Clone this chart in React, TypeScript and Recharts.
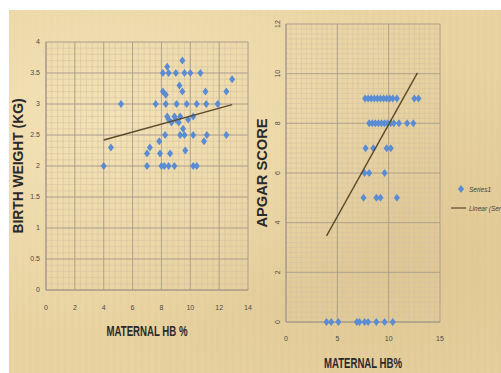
import React from 'react';
import { ScatterChart, Scatter, XAxis, YAxis, CartesianGrid, Legend } from 'recharts';

// left panel: maternal Hb vs birth weight
const weightHb = [
  4.0, 4.5, 5.2, 7.0, 7.0, 7.2, 7.6, 7.85, 7.9, 8.0, 8.2, 8.1, 8.1, 8.3, 8.25, 8.4, 8.3, 8.6, 8.5, 8.9,
  8.5, 9.0, 9.25, 9.45, 9.45, 9.6, 10.0, 10.7, 9.05, 9.75, 10.45, 11.1, 11.9, 8.4, 8.5, 8.7, 8.9, 9.0,
  9.2, 9.3, 9.85, 10.2, 9.5, 9.6, 9.3, 10.2, 9.65, 10.2, 10.45, 11.05, 10.95, 11.15, 12.5, 12.5, 12.9,
];
const weightKg = [
  2.0, 2.3, 3.0, 2.0, 2.2, 2.3, 3.0, 2.4, 2.2, 2.0, 2.0, 3.5, 3.2, 3.15, 2.5, 3.6, 3.0, 2.2, 2.0, 2.0,
  3.5, 3.5, 3.3, 3.2, 3.7, 3.5, 3.5, 3.5, 3.0, 3.0, 3.0, 3.0, 3.0, 2.8, 2.75, 2.7, 2.8, 2.75,
  2.7, 2.8, 2.75, 2.8, 2.6, 2.5, 2.5, 2.5, 2.25, 2.0, 2.0, 3.2, 2.4, 2.5, 3.2, 2.5, 3.4,
];
const weightTrendHb = [4.0, 12.9];
const weightTrendKg = [2.42, 2.99];
const weightTicksX = [0, 2, 4, 6, 8, 10, 12, 14];
const weightTicksY = [0, 0.5, 1, 1.5, 2, 2.5, 3, 3.5, 4];

// right panel: maternal Hb vs apgar score
const apgarHb = [
  7.7, 8.0, 8.3, 8.6, 8.9, 9.2, 9.5, 9.8, 10.1, 10.4, 10.8, 12.5, 12.9,
  8.1, 8.4, 8.7, 9.0, 9.3, 9.6, 9.9, 10.2, 10.5, 11.0, 11.8, 12.4,
  7.75, 8.5, 9.8, 10.2,
  7.65, 8.1, 9.6,
  7.55, 8.8, 9.2, 10.8,
  3.95, 4.4, 5.1, 6.9, 7.15, 7.65, 8.0, 8.8, 9.6, 10.4,
];
const apgarScore = [
  9, 9, 9, 9, 9, 9, 9, 9, 9, 9, 9, 9, 9,
  8, 8, 8, 8, 8, 8, 8, 8, 8, 8, 8, 8,
  7, 7, 7, 7,
  6, 6, 6,
  5, 5, 5, 5,
  0, 0, 0, 0, 0, 0, 0, 0, 0, 0,
];
const apgarTrendHb = [3.95, 12.8];
const apgarTrendScore = [3.47, 10.03];
const apgarTicksX = [0, 5, 10, 15];
const apgarTicksY = [0, 2, 4, 6, 8, 10, 12];

const seriesName = 'Series1';
const trendName = 'Linear (Series1)';

const steps = (end: number, step: number) =>
  Array.from({ length: Math.round(end / step) + 1 }, (_, i) => +(i * step).toFixed(2));

const BLUE = '#5a8cd3';
const TREND = '#5b4a2c';
const MAJOR = '#a6988a';
const MINOR = '#d5c3a2';
const tickStyle = { fontSize: 7, fill: '#4a4a4a', fontFamily: 'Arial, sans-serif' };

const Diamond = (p: any) => (
  <path
    d={`M${p.cx},${p.cy - 4}L${p.cx + 3},${p.cy}L${p.cx},${p.cy + 4}L${p.cx - 3},${p.cy}Z`}
    fill={BLUE}
  />
);
const NoMark = () => <g />;

const axisTitle = (text: string, side: 'bottom' | 'left', gap: number, len?: number) => (props: any) => {
  const { x, y, width, height } = props.viewBox;
  const style = { fontSize: 14, fontWeight: 700, fill: '#2a2a2a', fontFamily: 'Arial, sans-serif' };
  if (side === 'bottom') {
    return (
      <text x={x + width / 2} y={y + height + gap} textAnchor="middle" textLength={len}
        lengthAdjust="spacingAndGlyphs" style={style}>{text}</text>
    );
  }
  const cx = x + gap;
  const cy = y + height / 2;
  return (
    <text x={cx} y={cy} transform={`rotate(-90 ${cx} ${cy})`} textAnchor="middle"
      dominantBaseline="central" textLength={len} lengthAdjust="spacingAndGlyphs" style={style}>{text}</text>
  );
};

const RotatedTick = (props: any) => {
  const { x, y, payload } = props;
  return (
    <text x={x} y={y} transform={`rotate(-90 ${x} ${y})`} textAnchor="middle" style={tickStyle}>
      {payload.value}
    </text>
  );
};

// markers first, trend line second, as in the original legend
const renderLegend = (props: any) => {
  const entries = [...(props.payload || [])].sort(
    (a: any, b: any) => (a.type === 'line' ? 1 : 0) - (b.type === 'line' ? 1 : 0),
  );
  return (
    <div style={{ fontFamily: 'Arial, sans-serif', fontSize: 6.5, color: '#444', whiteSpace: 'nowrap' }}>
      {entries.map((entry: any) => (
        <div key={entry.value} style={{ display: 'flex', alignItems: 'center', height: 10, marginBottom: 9 }}>
          <svg width={16} height={10}>
            {entry.type === 'line'
              ? <line x1={0} y1={5} x2={15} y2={5} stroke={TREND} strokeWidth={1.2} />
              : <path d="M10,1L13,5L10,9L7,5Z" fill={BLUE} />}
          </svg>
          <span style={{ marginLeft: 2, fontStyle: 'italic' }}>{entry.value}</span>
        </div>
      ))}
    </div>
  );
};

const App: React.FC = () => {
  const weightPoints = weightHb.map((hb, i) => ({ hb, value: weightKg[i] }));
  const weightTrend = weightTrendHb.map((hb, i) => ({ hb, value: weightTrendKg[i] }));
  const apgarPoints = apgarHb.map((hb, i) => ({ hb, value: apgarScore[i] }));
  const apgarTrend = apgarTrendHb.map((hb, i) => ({ hb, value: apgarTrendScore[i] }));

  return (
    <div style={{ position: 'absolute', left: 0, top: 0, width: 501, height: 373, overflow: 'hidden', background: '#fff' }}>
      <div
        style={{
          position: 'absolute', left: 9, top: 10, width: 492, height: 363,
          background:
            'radial-gradient(ellipse at 20% 30%, rgba(245,228,185,0.9), rgba(245,228,185,0) 60%),' +
            'radial-gradient(ellipse at 80% 70%, rgba(214,188,134,0.5), rgba(214,188,134,0) 60%),' +
            'repeating-linear-gradient(90deg, rgba(190,160,110,0.08) 0px, rgba(190,160,110,0) 3px, rgba(190,160,110,0.05) 7px),' +
            '#e9d4a2',
        }}
      />

      <div style={{ position: 'absolute', left: 0, top: 0 }}>
        <ScatterChart width={262} height={373} margin={{ top: 42, right: 14, bottom: 63, left: 26 }}>
          <CartesianGrid stroke={MINOR} strokeWidth={0.6} fill="none"
            horizontalValues={steps(4, 0.1)} verticalValues={steps(14, 0.4)} />
          <CartesianGrid stroke={MAJOR} strokeWidth={0.8} fill="none"
            horizontalValues={weightTicksY} verticalValues={weightTicksX} />
          <XAxis type="number" dataKey="hb" domain={[0, 14]} ticks={weightTicksX} interval={0}
            height={20} tickLine={false} tickSize={0} tickMargin={15} tick={tickStyle}
            axisLine={{ stroke: MAJOR }} label={axisTitle('MATERNAL HB %', 'bottom', 26, 81)} />
          <YAxis type="number" dataKey="value" domain={[0, 4]} ticks={weightTicksY} interval={0}
            width={20} tickLine={false} tickSize={0} tickMargin={6} tick={tickStyle}
            axisLine={{ stroke: MAJOR }} label={axisTitle('BIRTH WEIGHT (KG)', 'left', -8, 135)} />
          <Scatter name={seriesName} data={weightPoints} shape={Diamond} isAnimationActive={false} />
          <Scatter name={trendName} data={weightTrend} shape={NoMark} line={{ stroke: TREND, strokeWidth: 1.4 }}
            lineType="joint" isAnimationActive={false} />
        </ScatterChart>
      </div>

      <div style={{ position: 'absolute', left: 250, top: 0 }}>
        <ScatterChart width={251} height={373} margin={{ top: 24, right: 61, bottom: 31, left: 20 }}>
          <CartesianGrid stroke={MINOR} strokeWidth={0.6} fill="none"
            horizontalValues={steps(12, 0.2)} verticalValues={steps(15, 0.5)} />
          <CartesianGrid stroke={MAJOR} strokeWidth={0.8} fill="none"
            horizontalValues={apgarTicksY} verticalValues={apgarTicksX} />
          <XAxis type="number" dataKey="hb" domain={[0, 15]} ticks={apgarTicksX} interval={0}
            height={20} tickLine={false} tickSize={0} tickMargin={14} tick={tickStyle}
            axisLine={{ stroke: MAJOR }} label={axisTitle('MATERNAL HB%', 'bottom', 26, 78)} />
          <YAxis type="number" dataKey="value" domain={[0, 12]} ticks={apgarTicksY} interval={0}
            width={16} tickLine={false} tickSize={0} tickMargin={6} tick={RotatedTick}
            axisLine={{ stroke: MAJOR }} label={axisTitle('APGAR SCORE', 'left', -8, 109)} />
          <Scatter name={seriesName} data={apgarPoints} shape={Diamond} legendType="diamond" isAnimationActive={false} />
          <Scatter name={trendName} data={apgarTrend} shape={NoMark} legendType="line"
            line={{ stroke: TREND, strokeWidth: 1.4 }} lineType="joint" isAnimationActive={false} />
          <Legend layout="vertical" align="center" verticalAlign="middle" content={renderLegend}
            wrapperStyle={{ left: 201, top: 184, width: 80 }} />
        </ScatterChart>
      </div>
    </div>
  );
};

export default App;
